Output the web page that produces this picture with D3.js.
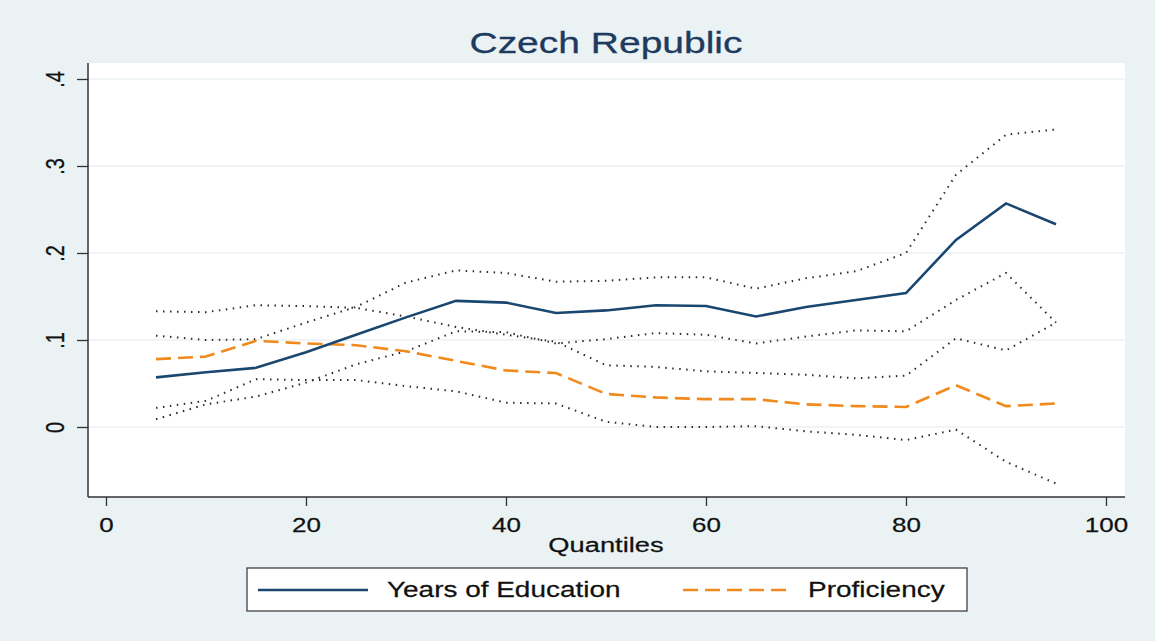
<!DOCTYPE html>
<html>
<head>
<meta charset="utf-8">
<script src="https://cdn.jsdelivr.net/npm/d3@7"></script>
<style>
  body { margin: 0; background: #eaf2f3; }
  svg { display: block; font-family: "Liberation Sans", Arial, sans-serif; }
</style>
</head>
<body>
<svg id="chart" width="1155" height="641"></svg>
<script>
// quantiles on the x axis
const quantiles = [5, 10, 15, 20, 25, 30, 35, 40, 45, 50, 55, 60, 65, 70, 75, 80, 85, 90, 95];

// years of education: estimate and confidence band
const edu      = [0.057, 0.063, 0.068, 0.086, 0.106, 0.126, 0.145, 0.143, 0.131, 0.134, 0.140, 0.139, 0.127, 0.138, 0.146, 0.154, 0.215, 0.257, 0.233];
const eduUpper = [0.105, 0.100, 0.101, 0.120, 0.138, 0.166, 0.180, 0.177, 0.167, 0.168, 0.172, 0.172, 0.159, 0.171, 0.179, 0.200, 0.290, 0.336, 0.342];
const eduLower = [0.009, 0.026, 0.035, 0.051, 0.072, 0.087, 0.110, 0.109, 0.096, 0.101, 0.108, 0.106, 0.096, 0.104, 0.111, 0.110, 0.146, 0.177, 0.120];

// proficiency: estimate and confidence band
const prof      = [0.078, 0.081, 0.099, 0.096, 0.094, 0.087, 0.076, 0.065, 0.062, 0.038, 0.034, 0.032, 0.032, 0.026, 0.024, 0.023, 0.048, 0.024, 0.027];
const profUpper = [0.133, 0.132, 0.140, 0.139, 0.137, 0.127, 0.115, 0.106, 0.098, 0.071, 0.069, 0.064, 0.062, 0.060, 0.056, 0.059, 0.102, 0.088, 0.120];
const profLower = [0.022, 0.030, 0.055, 0.054, 0.054, 0.047, 0.041, 0.028, 0.027, 0.006, 0.000, 0.000, 0.001, -0.005, -0.009, -0.015, -0.003, -0.040, -0.065];

const xTicks = [0, 20, 40, 60, 80, 100];
const yTicks = [0, 0.1, 0.2, 0.3, 0.4];
const yTickLabels = ["0", ".1", ".2", ".3", ".4"];
const legendLabels = ["Years of Education", "Proficiency"];
const titleText = "Czech Republic";
const xTitle = "Quantiles";

const navy = "#1a476f", orange = "#f08a1c", bg = "#eaf2f3";
const SX = 1.3; // the picture's text is stretched sideways

const svg = d3.select("#chart");
const plot = { left: 88, top: 63, right: 1125, bottom: 497 };

svg.append("rect").attr("width", 1155).attr("height", 641).attr("fill", bg);
svg.append("rect")
  .attr("x", plot.left).attr("y", plot.top)
  .attr("width", plot.right - plot.left).attr("height", plot.bottom - plot.top)
  .attr("fill", "#fff");

const x = d3.scaleLinear().domain([0, 100]).range([106, 1106]);
const y = d3.scaleLinear().domain([0, 0.4]).range([427, 79]);

// grid lines
svg.append("g").selectAll("line")
  .data(yTicks).enter().append("line")
  .attr("x1", plot.left).attr("x2", plot.right)
  .attr("y1", d => y(d)).attr("y2", d => y(d))
  .attr("stroke", bg).attr("stroke-width", 1.6);

// axes
const xAxis = svg.append("g")
  .attr("transform", "translate(0," + plot.bottom + ")")
  .call(d3.axisBottom(x).tickValues(xTicks).tickSize(9).tickFormat(d3.format("d")));
xAxis.select(".domain").remove();
xAxis.selectAll(".tick line").attr("stroke", "#333").attr("stroke-width", 1.3);
xAxis.selectAll(".tick text")
  .attr("y", null).attr("dy", null)
  .attr("transform", "translate(0,35) scale(" + SX + ",1)")
  .attr("font-size", 20).attr("fill", "#111")
  .attr("stroke", "#111").attr("stroke-width", 0.25);

const yAxis = svg.append("g")
  .attr("transform", "translate(" + plot.left + ",0)")
  .call(d3.axisLeft(y).tickValues(yTicks).tickSize(11).tickFormat((d, i) => yTickLabels[i]));
yAxis.select(".domain").remove();
yAxis.selectAll(".tick line").attr("stroke", "#333").attr("stroke-width", 1.3);
yAxis.selectAll(".tick text")
  .attr("x", null).attr("dy", null)
  .attr("text-anchor", "middle")
  .attr("transform", "translate(-24,0) scale(" + SX + ",1) rotate(-90)")
  .attr("font-size", 20).attr("fill", "#111")
  .attr("stroke", "#111").attr("stroke-width", 0.25);

// frame lines
svg.append("line").attr("x1", plot.left).attr("x2", plot.left)
  .attr("y1", plot.top).attr("y2", plot.bottom).attr("stroke", "#333").attr("stroke-width", 1.5);
svg.append("line").attr("x1", plot.left).attr("x2", plot.right)
  .attr("y1", plot.bottom).attr("y2", plot.bottom).attr("stroke", "#333").attr("stroke-width", 1.5);

// series
const line = vals => d3.line()
  .x((d, i) => x(quantiles[i]))
  .y(d => y(d))(vals);

[eduUpper, eduLower, profUpper, profLower].forEach(band => {
  svg.append("path").attr("d", line(band))
    .attr("fill", "none").attr("stroke", "#2a2a2a").attr("stroke-width", 2)
    .attr("stroke-dasharray", "1.5,5.5");
});

svg.append("path").attr("d", line(prof))
  .attr("fill", "none").attr("stroke", orange).attr("stroke-width", 2.6)
  .attr("stroke-dasharray", "15,7");
svg.append("path").attr("d", line(edu))
  .attr("fill", "none").attr("stroke", navy).attr("stroke-width", 2.6);

// title and axis title
svg.append("text").text(titleText)
  .attr("transform", "translate(606,53) scale(" + SX + ",1)")
  .attr("text-anchor", "middle").attr("font-size", 30).attr("fill", "#1e3a5f")
  .attr("stroke", "#1e3a5f").attr("stroke-width", 0.3);
svg.append("text").text(xTitle)
  .attr("transform", "translate(606,552) scale(" + SX + ",1)")
  .attr("text-anchor", "middle").attr("font-size", 21).attr("fill", "#111")
  .attr("stroke", "#111").attr("stroke-width", 0.25);

// legend
const legend = svg.append("g");
legend.append("rect").attr("x", 247).attr("y", 568).attr("width", 720).attr("height", 43)
  .attr("fill", "#fff").attr("stroke", "#333").attr("stroke-width", 1.2);
const legendItems = [
  { x0: 258, tx: 387, color: navy, dash: null },
  { x0: 683, tx: 808, color: orange, dash: "15,7" }
];
legendItems.forEach((it, i) => {
  legend.append("line").attr("x1", it.x0).attr("x2", it.x0 + 110)
    .attr("y1", 590).attr("y2", 590)
    .attr("stroke", it.color).attr("stroke-width", 2.6)
    .attr("stroke-dasharray", it.dash);
  legend.append("text").text(legendLabels[i])
    .attr("transform", "translate(" + it.tx + ",597) scale(" + SX + ",1)")
    .attr("font-size", 21.5).attr("fill", "#111")
    .attr("stroke", "#111").attr("stroke-width", 0.25);
});
</script>
</body>
</html>
